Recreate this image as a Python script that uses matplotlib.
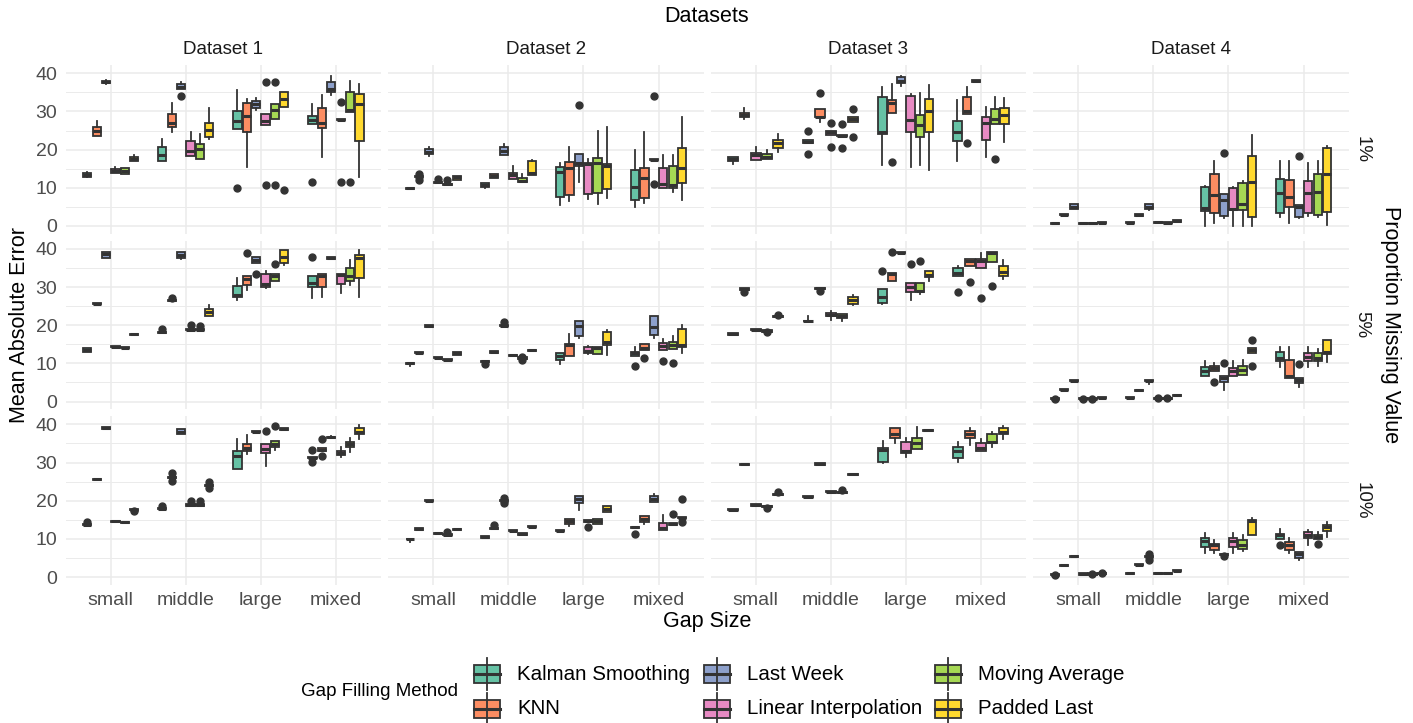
import matplotlib
matplotlib.use('Agg')
import matplotlib.pyplot as plt
from matplotlib.patches import Rectangle

plt.rcParams['font.family'] = ['Liberation Sans', 'DejaVu Sans']

methods = ['Kalman Smoothing', 'KNN', 'Last Week', 'Linear Interpolation',
           'Moving Average', 'Padded Last']
colors = ['#66C2A5', '#FC8D62', '#8DA0CB', '#E78AC3', '#A6D854', '#FFD92F']
gap_sizes = ['small', 'middle', 'large', 'mixed']
datasets = ['Dataset 1', 'Dataset 2', 'Dataset 3', 'Dataset 4']
proportions = ['1%', '5%', '10%']

# one list per panel, one row per gap size, one entry per method:
#   v                         -> collapsed box at v
#   (v, [outliers])           -> collapsed box with outliers
#   (lo, q1, med, q3, hi)     -> box
#   (lo, q1, med, q3, hi, [outliers])
#   None                      -> method not present
p1_d1 = [
    [(13.0, 12.9, 13.4, 13.8, 14.2), (23.6, 23.6, 24.9, 26.0, 27.5), (37.3, 37.4, 37.7, 38.1, 38.2),
     (13.8, 13.8, 14.4, 15.0, 15.5), (13.5, 13.5, 14.4, 15.1, 15.2), (16.9, 16.9, 17.6, 18.0, 18.6)],
    [(17.0, 17.0, 18.5, 20.8, 22.8), (24.5, 25.9, 26.9, 29.3, 32.1), (35.9, 35.9, 36.5, 37.2, 37.6, [34.1]),
     (18.3, 18.3, 19.7, 22.3, 24.7), (17.6, 17.6, 20.1, 21.4, 24.1), (22.9, 23.2, 25.1, 27.1, 30.8)],
    [(25.4, 25.4, 27.5, 30.0, 35.6, [10.0]), (15.5, 24.7, 28.9, 32.3, 33.2), (30.4, 31.0, 31.9, 32.8, 33.6),
     (26.4, 26.4, 27.5, 29.3, 29.3, [37.8, 10.7]), (27.9, 27.9, 30.4, 31.9, 31.9, [37.6, 10.8]),
     (31.2, 31.2, 33.3, 35.0, 35.0, [9.4])],
    [(26.6, 26.6, 27.8, 28.8, 31.9, [11.5]), (18.2, 25.6, 27.0, 30.8, 34.3), (34.4, 35.0, 35.8, 37.6, 39.4),
     (27.8, [32.6, 11.6]), (29.8, 29.8, 30.4, 35.0, 38.1, [11.6]), (12.7, 22.3, 31.9, 34.6, 37.2)],
]
p1_d2 = [
    [9.9, (12.9, [13.5, 12.1]), (18.4, 18.8, 19.5, 20.1, 20.8), (11.4, [12.3]), (10.9, [12.1]),
     (12.1, 12.1, 12.7, 13.2, 13.2)],
    [(10.0, 10.3, 10.7, 11.3, 11.3), (12.6, 12.6, 13.1, 13.7, 13.7), (18.6, 18.6, 19.7, 20.8, 21.4),
     (12.3, 12.3, 13.3, 14.0, 15.7), (11.4, 11.4, 11.9, 12.5, 13.6), (13.4, 13.4, 13.8, 17.1, 17.4)],
    [(5.5, 7.5, 14.2, 15.5, 16.4), (6.6, 8.1, 15.3, 16.7, 20.6), (11.4, 15.7, 16.4, 18.8, 18.8, [31.7]),
     (7.0, 8.4, 16.2, 16.4, 17.6), (5.8, 8.6, 16.4, 17.9, 25.0), (7.2, 9.7, 15.7, 16.2, 25.8)],
    [(4.9, 6.8, 10.3, 14.7, 19.9), (5.9, 7.2, 12.5, 15.1, 24.7), (17.4, [34.1, 11.0]),
     (9.9, 9.9, 10.9, 15.3, 18.6), (9.0, 9.9, 10.7, 15.7, 18.6), (6.8, 11.2, 15.1, 20.3, 28.6)],
]
p1_d3 = [
    [(16.2, 16.9, 17.6, 18.2, 18.2), (27.9, 28.5, 29.1, 29.7, 30.8), None,
     (17.3, 17.3, 18.6, 19.2, 20.6), (17.6, 17.6, 18.2, 18.8, 19.9), (19.4, 20.5, 21.7, 22.5, 24.1)],
    [(21.7, 21.7, 22.1, 22.5, 22.5, [24.9, 18.9]), (27.2, 28.5, 28.6, 30.7, 30.7, [34.9]), None,
     (23.8, 23.8, 24.5, 24.9, 24.9, [26.9, 20.8]), (23.7, [26.6, 20.3]),
     (27.3, 27.3, 28.0, 28.6, 28.6, [30.7, 23.4])],
    [(16.0, 24.1, 24.7, 33.9, 36.5), (29.7, 29.7, 32.3, 33.0, 37.1, [16.7]), (36.8, 37.4, 38.1, 38.9, 39.4),
     (15.5, 24.5, 27.8, 34.1, 34.5), (16.0, 23.4, 26.5, 29.1, 34.8), (14.7, 24.7, 30.0, 33.2, 36.9)],
    [(16.9, 22.3, 24.7, 27.5, 33.0), (29.3, 29.3, 30.0, 33.9, 36.5, [21.8]), (37.8, 37.8, 38.0, 38.3, 38.3),
     (18.2, 22.5, 26.9, 28.5, 31.3), (26.6, 26.6, 27.9, 30.7, 33.7, [17.6]), (22.1, 26.6, 29.1, 31.0, 33.6)],
]
p1_d4 = [
    [0.7, 2.9, (4.5, 4.5, 5.1, 5.8, 5.8), 0.7, 0.7, 0.9],
    [0.9, (2.7, 2.7, 2.9, 3.2, 3.2), (4.2, 4.5, 5.1, 5.8, 5.8), 1.0, 0.9, 1.3],
    [(0.0, 4.0, 4.6, 10.1, 10.5), (0.7, 3.3, 8.1, 13.5, 17.0), (2.2, 2.6, 6.8, 8.3, 8.3, [19.0]),
     (0.0, 4.2, 4.4, 9.9, 10.1), (0.0, 4.2, 5.7, 11.2, 11.9), (0.0, 2.3, 11.4, 18.3, 23.8)],
    [(2.4, 3.3, 8.7, 12.2, 16.9), (0.7, 5.1, 7.7, 12.1, 16.9), (2.2, 2.4, 5.1, 5.5, 5.5, [18.3]),
     (2.6, 3.3, 8.7, 11.9, 16.4), (2.4, 2.9, 9.0, 13.5, 16.9), (0.3, 3.6, 13.5, 20.3, 21.0)],
]

p5_d1 = [
    [(13.1, 13.1, 13.5, 14.0, 14.0), 25.6, (37.7, 37.7, 38.6, 39.3, 39.3), 14.4, 14.1, 17.6],
    [(18.2, [19.0]), (26.5, [27.2]), (37.3, 37.7, 38.4, 39.1, 39.1), (18.8, [20.1]), (18.8, [19.9]),
     (22.5, 22.5, 23.4, 24.3, 25.3)],
    [(26.5, 27.3, 27.9, 30.4, 32.3), (29.3, 30.6, 32.1, 32.8, 32.8, [38.9]),
     (36.4, 36.4, 37.1, 37.8, 37.8, [33.4]), (29.7, 29.9, 30.8, 33.4, 34.1),
     (31.7, 31.7, 32.9, 33.4, 33.4, [36.1]), (35.8, 36.2, 38.0, 39.7, 39.7)],
    [(27.2, 29.9, 31.0, 33.0, 33.0, [37.8]), (27.5, 30.1, 33.0, 33.4, 33.4), 37.6,
     (28.4, 30.7, 33.2, 33.4, 33.4), (30.6, 31.6, 32.8, 34.9, 37.1), (27.5, 32.3, 37.6, 38.4, 39.6)],
]
p5_d2 = [
    [(9.2, 9.8, 10.0, 10.1, 10.1), 12.8, 19.8, 11.5, 11.0, (12.3, 12.3, 12.7, 13.1, 13.1)],
    [(10.5, [9.9]), 13.0, (19.9, [20.8]), 12.1, (11.4, [11.0, 11.6]), 13.4],
    [(9.9, 10.9, 12.0, 12.8, 12.8), (12.0, 12.0, 14.8, 15.0, 17.6), (16.6, 17.3, 19.7, 21.0, 21.0),
     (12.4, 12.7, 13.3, 14.3, 14.6), (12.5, 12.5, 14.0, 14.3, 14.3), (12.1, 14.8, 15.7, 18.3, 18.8)],
    [(12.0, 12.0, 12.7, 13.1, 14.4, [9.2]), (13.5, 13.5, 14.0, 15.1, 15.1, [11.4]),
     (16.6, 17.5, 19.5, 22.3, 22.3), (13.4, 13.4, 14.6, 15.3, 16.4, [10.7]),
     (13.8, 13.8, 14.8, 15.5, 17.2, [10.2]), (12.7, 14.4, 14.8, 19.0, 20.1)],
]
p5_d3 = [
    [17.7, (29.5, [28.6]), None, 18.8, (18.5, [18.2]), (22.3, [22.7])],
    [(21.0, 21.0, 21.0, 21.2, 22.3), (29.7, [29.0]), None, (21.4, 22.3, 22.7, 23.1, 23.6),
     (21.0, 21.8, 22.4, 22.9, 22.9), (25.2, 25.6, 26.6, 27.3, 27.9)],
    [(25.6, 25.9, 27.5, 29.4, 29.4, [34.3]), (31.7, 31.7, 33.4, 33.8, 33.8, [39.1]), 39.0,
     (26.5, 28.8, 30.1, 31.0, 31.0, [36.1]), (28.2, 28.8, 29.0, 31.0, 31.0, [36.9]),
     (31.7, 32.6, 33.2, 34.1, 34.1)],
    [(32.8, 32.8, 33.6, 35.1, 35.6, [28.6]), (35.4, 35.4, 36.9, 37.4, 37.4, [31.2]), None,
     (34.9, 34.9, 36.7, 37.4, 38.9, [27.2]), (36.5, 36.5, 39.0, 39.3, 39.3, [30.3]),
     (32.0, 32.9, 34.0, 35.5, 37.1)],
]
p5_d4 = [
    [(0.7, [0.7]), 3.1, 5.5, (0.7, [0.7]), (0.7, [0.7]), 1.0],
    [1.0, 3.0, (4.7, 5.3, 5.5, 5.7, 5.7), (0.9, [0.9]), (0.9, [0.9]), 1.6],
    [(6.7, 6.7, 7.9, 9.0, 10.5), (7.9, 7.9, 8.7, 9.3, 10.0, [5.1]), (3.1, 5.2, 6.1, 6.8, 6.8, [10.0]),
     (6.6, 6.6, 7.9, 8.9, 10.5), (7.0, 7.0, 8.3, 9.4, 10.9), (12.7, 12.7, 13.4, 14.0, 14.0, [16.1, 9.2])],
    [(9.0, 10.5, 11.5, 12.9, 14.2), (6.3, 6.3, 6.7, 10.9, 14.2), (3.9, 4.8, 5.7, 6.1, 6.1, [9.8]),
     (9.0, 10.5, 11.8, 12.7, 14.2), (9.4, 10.7, 11.5, 12.7, 13.7), (10.3, 12.4, 13.1, 16.2, 16.2)],
]

p10_d1 = [
    [(13.7, [14.4]), 25.6, (38.7, 38.7, 39.0, 39.3, 39.3), 14.6, 14.3, (17.6, [17.2])],
    [(17.9, [18.7]), (26.1, [27.2, 25.2]), (37.4, 37.5, 38.1, 38.7, 38.7), (18.9, [19.8]), (18.9, [19.8]),
     (24.1, [25.0, 23.3])],
    [(28.3, 28.3, 31.7, 33.1, 36.1), (32.2, 32.9, 33.7, 34.8, 37.2), 38.1,
     (29.2, 32.4, 33.6, 34.8, 34.8, [38.3]), (33.2, 34.0, 34.8, 35.6, 35.6, [39.7]), 38.8],
    [(31.3, [33.3, 30.1]), (32.9, 32.9, 33.3, 33.7, 33.7, [36.1, 31.8]), (36.4, 36.5, 36.6, 36.8, 37.0),
     (31.5, 32.0, 32.4, 32.9, 34.2), (32.7, 34.0, 34.8, 35.3, 36.5), (36.3, 37.4, 38.1, 39.1, 39.8)],
]
p10_d2 = [
    [(9.3, 9.9, 10.0, 10.1, 10.1), 12.6, 20.0, 11.5, (11.1, [11.7]), 12.5],
    [10.5, (12.8, [13.7]), (20.0, [20.7, 19.3]), 12.1, 11.3, 13.2],
    [12.2, (13.4, 13.9, 14.6, 15.3, 15.3), (17.6, 19.5, 20.4, 21.3, 21.3),
     (14.4, 14.4, 14.8, 15.0, 15.0, [13.2]), (13.9, 13.9, 14.6, 15.2, 15.2), (17.0, 17.0, 17.8, 18.6, 18.6)],
    [(13.0, [11.3]), (13.9, 14.4, 15.2, 16.0, 16.0), (19.6, 19.6, 20.4, 21.3, 21.7),
     (12.4, 12.4, 12.8, 14.1, 16.3), (13.9, [16.6]), (15.6, [20.4, 14.3])],
]
p10_d3 = [
    [17.6, 29.6, None, 18.9, (18.5, [18.0]), (21.7, [22.2])],
    [21.1, (29.3, 29.3, 29.6, 30.0, 30.0), None, 22.4, (22.2, [22.8]), 26.9],
    [(29.8, 30.1, 33.3, 33.7, 35.7), (35.0, 36.5, 37.4, 39.1, 39.1), None,
     (31.5, 32.6, 32.9, 35.5, 36.5), (33.5, 33.5, 35.0, 36.5, 39.4), 38.5],
    [(30.2, 31.3, 33.1, 34.2, 35.5), (34.6, 36.5, 37.4, 38.3, 39.1), None,
     (32.9, 32.9, 33.9, 35.0, 36.2), (34.2, 35.2, 35.5, 37.4, 38.1), (36.3, 37.4, 38.1, 39.1, 39.7)],
]
p10_d4 = [
    [(0.6, [0.6]), 3.1, 5.4, 0.8, (0.8, [0.8]), (1.0, [1.0])],
    [1.0, 3.2, (5.3, [6.0, 4.5]), 1.0, 1.0, 1.7],
    [(6.3, 8.0, 9.5, 10.2, 11.5), (6.3, 7.1, 8.5, 8.7, 9.8), (6.0, [5.4]),
     (6.3, 8.0, 9.5, 10.2, 11.5), (6.7, 7.4, 8.5, 9.8, 11.1), (11.1, 11.1, 14.6, 15.0, 15.6)],
    [(10.0, 10.0, 11.1, 11.3, 12.6, [8.3]), (6.3, 7.1, 8.5, 9.3, 10.2), (4.5, 5.1, 6.0, 6.5, 6.5),
     (8.5, 10.2, 11.1, 11.7, 12.4), (9.9, 9.9, 10.6, 10.9, 11.9, [8.7]), (10.5, 12.2, 13.0, 13.7, 14.4)],
]

panels = [
    [p1_d1, p1_d2, p1_d3, p1_d4],
    [p5_d1, p5_d2, p5_d3, p5_d4],
    [p10_d1, p10_d2, p10_d3, p10_d4],
]


def box_stats(e):
    if isinstance(e, (int, float)):
        e = (e, [])
    if len(e) == 2:
        v, out = e
        return dict(whislo=v - 0.15, q1=v - 0.15, med=v, q3=v + 0.15, whishi=v + 0.15, fliers=out)
    lo, q1, med, q3, hi = e[:5]
    out = e[5] if len(e) > 5 else []
    return dict(whislo=lo, q1=q1, med=med, q3=q3, whishi=hi, fliers=out)


W, H = 1413, 723
fig = plt.figure(figsize=(W / 100, H / 100), dpi=100)

col_left = [65.7, 388.3, 710.7, 1033.3]
row_top = [64.9, 240.5, 416.0]
pw, ph = 315.3, 168.7
edge = '#333333'
grid_c = '#EBEBEB'

for r in range(3):
    for c in range(4):
        ax = fig.add_axes([col_left[c] / W, 1 - (row_top[r] + ph) / H, pw / W, ph / H])
        stats, pos, widths, fills = [], [], [], []
        for g, group in enumerate(panels[r][c]):
            present = [i for i, e in enumerate(group) if e is not None]
            n = len(present)
            slot = 0.75 / n
            for k, i in enumerate(present):
                stats.append(box_stats(group[i]))
                pos.append(g + 1 + (k - (n - 1) / 2) * slot)
                widths.append(slot * 0.88)
                fills.append(colors[i])
        bp = ax.bxp(stats, positions=pos, widths=widths, patch_artist=True, showcaps=False,
                    manage_ticks=False,
                    boxprops=dict(edgecolor=edge, linewidth=1.3),
                    whiskerprops=dict(color=edge, linewidth=1.3),
                    medianprops=dict(color=edge, linewidth=2.2),
                    flierprops=dict(marker='o', markerfacecolor=edge, markeredgecolor=edge,
                                    markersize=5, linestyle='none'))
        for patch, fc in zip(bp['boxes'], fills):
            patch.set_facecolor(fc)

        ax.set_xlim(0.4, 4.6)
        ax.set_ylim(-2.0, 42.2)
        ax.set_xticks([1, 2, 3, 4])
        ax.set_yticks([0, 10, 20, 30, 40])
        ax.set_yticks([5, 15, 25, 35], minor=True)
        ax.grid(which='major', color=grid_c, linewidth=1.1)
        ax.grid(which='minor', axis='y', color=grid_c, linewidth=0.7)
        ax.set_axisbelow(True)
        for s in ax.spines.values():
            s.set_visible(False)
        ax.tick_params(which='both', length=0, labelsize=14, labelcolor='#4D4D4D')
        ax.tick_params(axis='y', pad=6)
        ax.tick_params(axis='x', pad=5)
        if r == 2:
            ax.set_xticklabels(gap_sizes)
        else:
            ax.set_xticklabels([])
        if c == 0:
            ax.set_yticklabels(['0', '10', '20', '30', '40'])
        else:
            ax.set_yticklabels([])

# overlay in pixel coordinates for titles, strips and legend
ov = fig.add_axes([0, 0, 1, 1], facecolor='none')
ov.set_xlim(0, W)
ov.set_ylim(H, 0)
ov.axis('off')

ov.text(707, 17, 'Datasets', ha='center', va='center', fontsize=15.5, color='black')
for c in range(4):
    ov.text(col_left[c] + pw / 2, 50, datasets[c], ha='center', va='center', fontsize=13.5, color='#1A1A1A')
for r in range(3):
    ov.text(1362, row_top[r] + ph / 2, proportions[r], ha='center', va='center', rotation=270,
            fontsize=13.5, color='#1A1A1A')
ov.text(1391, 325, 'Proportion Missing Value', ha='center', va='center', rotation=270,
        fontsize=15.5, color='black')
ov.text(20, 325, 'Mean Absolute Error', ha='center', va='center', rotation=90, fontsize=15.5, color='black')
ov.text(707, 621, 'Gap Size', ha='center', va='center', fontsize=15.5, color='black')

ov.text(458, 691, 'Gap Filling Method', ha='right', va='center', fontsize=13.5, color='black')
key_x = [487, 717, 948]
key_y = [674, 709]
for i, m in enumerate(methods):
    cx, cy = key_x[i // 2], key_y[i % 2]
    ov.plot([cx, cx], [cy - 16, cy + 16], color=edge, linewidth=1.3)
    ov.add_patch(Rectangle((cx - 13, cy - 9), 26, 18, facecolor=colors[i], edgecolor=edge, linewidth=1.3))
    ov.plot([cx - 13, cx + 13], [cy, cy], color=edge, linewidth=2.2)
    ov.text(cx + 30, cy, m, ha='left', va='center', fontsize=14.8, color='black')

fig.savefig('out.png', dpi=100, facecolor='white')
